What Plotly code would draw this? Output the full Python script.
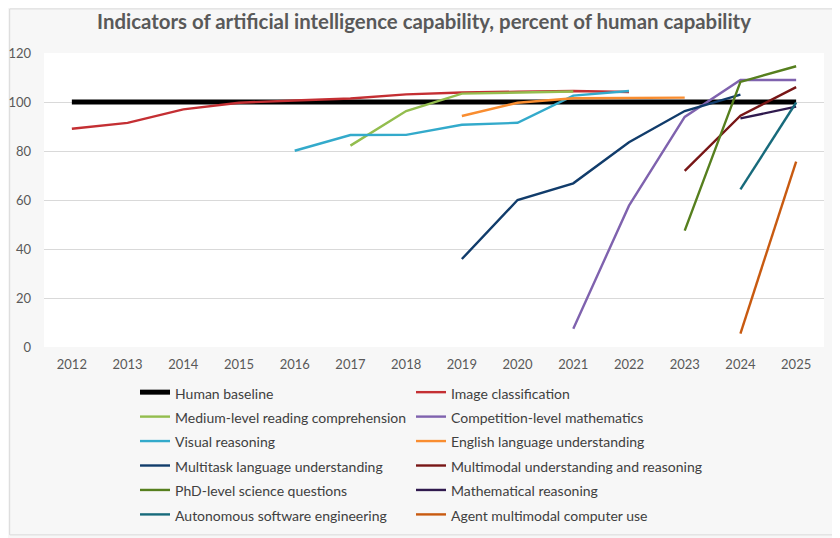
import plotly.graph_objects as go

# Data (percent of human capability)
years = list(range(2012, 2026))

human_baseline = [100] * 14
image_classification = [89.1, 91.5, 97.0, 99.7, 100.6, 101.4, 103.1, 103.9, 104.2, 104.5, 104.1]
reading_comprehension = [82.2, 96.3, 103.4, 104.0, 104.3]
competition_math = [7.5, 57.7, 93.9, 109.0, 109.0]
visual_reasoning = [80.1, 86.5, 86.6, 90.7, 91.5, 102.6, 104.5]
english_understanding = [94.3, 99.7, 101.5, 101.8, 101.8]
multitask_language = [35.9, 60.0, 66.8, 83.6, 96.3, 103.0]
multimodal_reasoning = [71.9, 94.4, 106.1]
phd_science = [47.5, 108.2, 114.6]
math_reasoning = [93.3, 98.1]
software_engineering = [64.3, 99.8]
computer_use = [5.5, 75.7]

series = [
    ("Human baseline", years, human_baseline, "#000000", 5),
    ("Image classification", years[0:11], image_classification, "#C42F33", 2.4),
    ("Medium-level reading comprehension", years[5:10], reading_comprehension, "#93BD4E", 2.4),
    ("Competition-level mathematics", years[9:14], competition_math, "#7F62AE", 2.4),
    ("Visual reasoning", years[4:11], visual_reasoning, "#33AACB", 2.4),
    ("English language understanding", years[7:12], english_understanding, "#F98D30", 2.4),
    ("Multitask language understanding", years[7:13], multitask_language, "#113C6B", 2.4),
    ("Multimodal understanding and reasoning", years[11:14], multimodal_reasoning, "#781616", 2.4),
    ("PhD-level science questions", years[11:14], phd_science, "#567F1E", 2.4),
    ("Mathematical reasoning", years[12:14], math_reasoning, "#301A4E", 2.4),
    ("Autonomous software engineering", years[12:14], software_engineering, "#176A7B", 2.4),
    ("Agent multimodal computer use", years[12:14], computer_use, "#C85A10", 2.4),
]

fig = go.Figure()
for i, (name, xs, ys, color, width) in enumerate(series):
    # legend rows are spaced by the legend font; the visible label is smaller
    label = "<span style='font-size:14px'>" + name + "</span>"
    fig.add_trace(go.Scatter(x=xs, y=ys, name=label, mode="lines",
                             line=dict(color=color, width=width),
                             legend="legend" if i % 2 == 0 else "legend2"))

font_family = "Lato, 'Open Sans', sans-serif"
legend_style = dict(yanchor="top", y=-0.095, xanchor="left", tracegroupgap=0,
                    font=dict(size=16.5, color="#404040"), bgcolor="rgba(0,0,0,0)")

# the page puts the figure 8px in from the top-left corner, so the figure is 832x530
fig.update_layout(
    width=832, height=530,
    paper_bgcolor="#F7F7F7",
    plot_bgcolor="#FFFFFF",
    margin=dict(l=36, r=16, t=45, b=191, autoexpand=False),
    font=dict(family=font_family, size=13, color="#595959"),
    title=dict(text="<b>Indicators of artificial intelligence capability, percent of human capability</b>",
               x=0.5, xanchor="center", y=0.9736, yanchor="middle", yref="container",
               font=dict(size=20.4, color="#595959")),
    xaxis=dict(range=[2011.5, 2025.5], tickvals=years, showgrid=False, zeroline=False,
               showline=False, ticks="", tickfont=dict(size=13), automargin=False,
               ticklabelstandoff=8),
    yaxis=dict(range=[0, 120], dtick=20, showgrid=True, gridcolor="#D9D9D9", gridwidth=1,
               zeroline=False, showline=False, ticks="", tickfont=dict(size=13), automargin=False,
               ticklabelstandoff=12),
    legend=dict(x=0.1167, **legend_style),
    legend2=dict(x=0.4705, **legend_style),
    showlegend=True,
)

# outer chart border
fig.add_shape(type="rect", xref="paper", yref="paper",
              x0=-0.044, x1=1.014, y0=-0.639, y1=1.15,
              line=dict(color="#D9D9D9", width=1), fillcolor="rgba(0,0,0,0)", layer="below")

fig.write_html("out.html")
